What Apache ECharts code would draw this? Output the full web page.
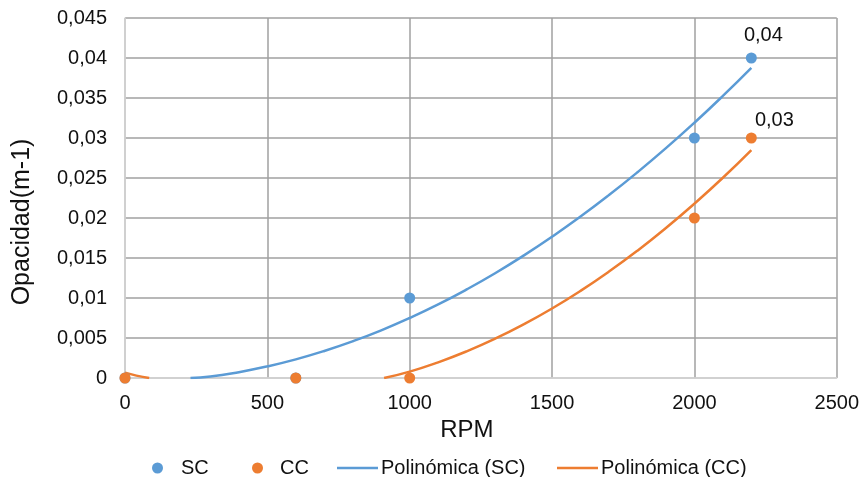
<!DOCTYPE html>
<html>
<head>
<meta charset="utf-8">
<script src="https://cdn.jsdelivr.net/npm/echarts@6/dist/echarts.min.js"></script>
<style>
  html, body { margin: 0; padding: 0; background: #fff; }
  #chart { width: 862px; height: 477px; }
</style>
</head>
<body>
<div id="chart"></div>
<script>
// Measured opacity against engine speed
const rpm = [0, 600, 1000, 2000, 2200];
const opacitySC = [0, 0, 0.01, 0.03, 0.04];
const opacityCC = [0, 0, 0, 0.02, 0.03];

// Second-order polynomial trend curves, sampled along RPM
const trendSCx = [230, 300, 400, 500, 600, 700, 800, 900, 1000, 1100, 1200, 1300, 1400, 1500, 1600, 1700, 1800, 1900, 2000, 2100, 2200];
const trendSCy = [0, 0.000175, 0.00073, 0.00145, 0.00233, 0.00338, 0.00459, 0.00596, 0.0075, 0.0092, 0.01107, 0.0131, 0.0153, 0.01766, 0.02018, 0.02287, 0.02572, 0.02873, 0.03191, 0.03526, 0.03877];
const trendCCx1 = [0, 40, 85];
const trendCCy1 = [0.00067, 0.0003, 0];
const trendCCx2 = [910, 1000, 1100, 1200, 1300, 1400, 1500, 1600, 1700, 1800, 1900, 2000, 2100, 2200];
const trendCCy2 = [0, 0.0008, 0.00196, 0.00333, 0.00491, 0.0067, 0.00869, 0.01089, 0.0133, 0.01592, 0.01875, 0.02179, 0.02503, 0.02849];

// Axis ranges and legend names
const xTicks = { min: 0, max: 2500, step: 500 };
const yTicks = { min: 0, max: 0.045, step: 0.005 };
const seriesNames = ['SC', 'CC', 'Polinómica (SC)', 'Polinómica (CC)'];

const BLUE = '#5B9BD5';
const ORANGE = '#ED7D31';
const FONT = "'Liberation Sans', Arial, sans-serif";

const comma = v => String(+(+v).toFixed(3)).replace('.', ',');
const pairs = (xs, ys) => xs.map((x, i) => [x, ys[i]]);

// Points; the last point of each series carries a value label
function scatterData(ys, labelOffset) {
  return rpm.map((x, i) => {
    const item = { value: [x, ys[i]] };
    if (i === rpm.length - 1) {
      item.label = {
        show: true, position: 'top', distance: 5, offset: labelOffset,
        formatter: p => comma(p.value[1]),
        color: '#111', fontSize: 20, fontFamily: FONT
      };
    }
    return item;
  });
}

const chart = echarts.init(document.getElementById('chart'), null, { renderer: 'canvas' });

function legendAt(name, left, icon, w, h, padLeft) {
  return {
    data: [{ name: name, icon: icon }],
    left: left, top: 453,
    itemWidth: w, itemHeight: h,
    selectedMode: false,
    textStyle: { color: '#111', fontSize: 20, fontFamily: FONT, padding: [0, 0, 0, padLeft] }
  };
}

chart.setOption({
  animation: false,
  backgroundColor: '#fff',
  grid: { left: 125, right: 25, top: 18, bottom: 99, containLabel: false },
  legend: [
    legendAt(seriesNames[0], 147, 'circle', 11, 11, 13),
    legendAt(seriesNames[1], 247, 'circle', 11, 11, 12),
    legendAt(seriesNames[2], 332, 'rect', 41, 2.5, -2),
    legendAt(seriesNames[3], 552, 'rect', 41, 2.5, -2)
  ],
  xAxis: {
    type: 'value',
    min: xTicks.min, max: xTicks.max, interval: xTicks.step,
    name: 'RPM', nameLocation: 'middle', nameGap: 40,
    nameTextStyle: { color: '#111', fontSize: 24, fontFamily: FONT, padding: [0, 28, 0, 0] },
    axisLine: { show: true, lineStyle: { color: '#d9d9d9', width: 1.5 } },
    axisTick: { show: false },
    axisLabel: { color: '#111', fontSize: 20, fontFamily: FONT, margin: 15, formatter: v => String(v) },
    splitLine: { show: true, lineStyle: { color: '#a0a0a0', width: 1.5 } }
  },
  yAxis: {
    type: 'value',
    min: yTicks.min, max: yTicks.max, interval: yTicks.step,
    name: 'Opacidad(m-1)', nameLocation: 'middle', nameGap: 90, nameRotate: 90,
    nameTextStyle: { color: '#111', fontSize: 25, fontFamily: FONT, padding: [0, 48, 0, 0] },
    axisLine: { show: true, lineStyle: { color: '#d9d9d9', width: 1.5 } },
    axisTick: { show: false },
    axisLabel: { color: '#111', fontSize: 20, fontFamily: FONT, margin: 18, formatter: comma },
    splitLine: { show: true, lineStyle: { color: '#a0a0a0', width: 1.5 } }
  },
  series: [
    {
      name: seriesNames[2], type: 'line', data: pairs(trendSCx, trendSCy),
      smooth: true, symbol: 'none', z: 2,
      lineStyle: { color: BLUE, width: 2.5 }, itemStyle: { color: BLUE }
    },
    {
      name: seriesNames[3], type: 'line', data: pairs(trendCCx1, trendCCy1),
      smooth: true, symbol: 'none', z: 2,
      lineStyle: { color: ORANGE, width: 2.5 }, itemStyle: { color: ORANGE }
    },
    {
      name: seriesNames[3], type: 'line', data: pairs(trendCCx2, trendCCy2),
      smooth: true, symbol: 'none', z: 2,
      lineStyle: { color: ORANGE, width: 2.5 }, itemStyle: { color: ORANGE }
    },
    {
      name: seriesNames[0], type: 'scatter', data: scatterData(opacitySC, [12, -2]),
      symbolSize: 11, z: 3, itemStyle: { color: BLUE, opacity: 1 }
    },
    {
      name: seriesNames[1], type: 'scatter', data: scatterData(opacityCC, [23, 3]),
      symbolSize: 11, z: 4, itemStyle: { color: ORANGE, opacity: 1 }
    }
  ]
});
</script>
</body>
</html>
